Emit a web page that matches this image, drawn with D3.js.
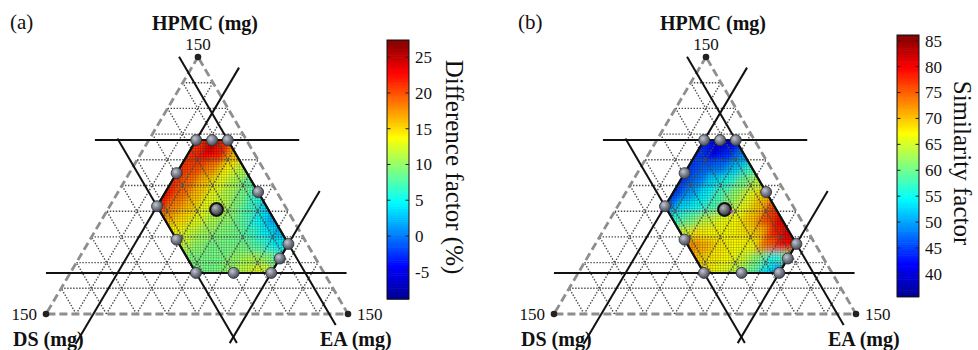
<!DOCTYPE html>
<html><head><meta charset="utf-8">
<script src="https://cdn.jsdelivr.net/npm/d3@7"></script>
<style>
body{margin:0;background:#fff;}
svg, svg text{font-family:"Liberation Serif","DejaVu Serif","Times New Roman",serif;}
</style></head><body>
<svg id="chart" width="978" height="350" font-family="Liberation Serif, DejaVu Serif, serif"></svg>
<script>
// ---------------- DATA ----------------
const TOTAL = 150;
const gridTicks = [15, 30, 45, 60, 75, 90, 105, 120, 135];
const vertexLabel = "150";
const axisNames = { top: "HPMC (mg)", left: "DS (mg)", right: "EA (mg)" };
const panelTags = ["(a)", "(b)"];

// constraint limits (mg)
const hpmcLimits = [24, 101.5];
const eaLimits = [23.5, 99.8];
const dsLimits = [9.3, 63.6];

// constraint lines: fixed component, value, and extent along the free parameter
const constraintLines = [
  { fix: "H", v: 101.5, from: -26.8, to: 74.7 },
  { fix: "H", v: 24, from: -12.1, to: 137.2 },
  { fix: "E", v: 23.5, from: -17.5, to: 143.8 },
  { fix: "E", v: 99.8, from: -17, to: 71.8 },
  { fix: "D", v: 9.3, from: -6.4, to: 150.2 },
  { fix: "D", v: 63.6, from: -16.9, to: 102.5 }
];

// design points [HPMC, EA] (mg)
const designPoints = [
  [101.5, 23.5], [101.5, 31.4], [101.5, 39.2], [82.2, 23.5], [71.2, 69.5],
  [62.9, 23.5], [43.4, 43.0], [40.9, 99.8], [32.4, 99.8], [24, 62.4],
  [24, 81.1], [24, 99.8]
];
const centerPoint = [61, 54];
const optimumPoint = [59.7, 58.2];

// response grids: rows = HPMC levels, cols = EA levels
const hLevels = [100, 92.5, 85, 77.5, 70, 62.5, 55, 47.5, 40, 32.5, 25];
const eLevels = [25, 32.5, 40, 47.5, 55, 62.5, 70, 77.5, 85, 92.5, 100];
const N = null;
const diffFactor = [
  [21, 25, 21, 15, N, N, N, N, N, N, N],
  [21, 23, 22, 16, 13, N, N, N, N, N, N],
  [21, 20, 18, 14, 11.5, 9.5, N, N, N, N, N],
  [21, 19, 16, 13, 11, 8, 6, N, N, N, N],
  [22, 19, 16, 13, 11, 9, 6, 4, N, N, N],
  [22, 18, 16, 13, 12, 9.5, 7, 3.5, 1, N, N],
  [19, 17, 15, 13, 11, 10, 8, 5, 2, 1, N],
  [N, 15, 14, 12, 10.5, 9.5, 9, 7, 4.5, 2.5, 3],
  [N, N, 13, 12, 10, 9, 9, 9, 7.5, 5, 4],
  [N, N, N, 10, 9.5, 9, 9, 10, 11, 10, 7],
  [N, N, N, N, 9, 9, 9, 10, 11.5, 13, 11]
];
const simFactor = [
  [43, 40, 42, 46, N, N, N, N, N, N, N],
  [45, 42, 44, 49, 52, N, N, N, N, N, N],
  [45, 47, 48, 52, 57, 60, N, N, N, N, N],
  [45, 48, 53, 56, 60, 64, 68, N, N, N, N],
  [45, 50, 54, 58, 62, 66, 70, 74, N, N, N],
  [47, 53, 55, 58, 62, 66, 70, 77, 81, N, N],
  [54, 57, 60, 64, 66, 67, 70, 76, 81, 82, N],
  [N, 60, 65, 68, 67, 67, 68, 70, 78, 81, 80],
  [N, N, 72, 73, 71, 68, 67, 67, 74, 79, 80],
  [N, N, N, 72, 70, 68, 67, 65, 61, 55, 60],
  [N, N, N, N, 69, 68, 66, 64, 60, 54, 47]
];
const diffTicks = [-5, 0, 5, 10, 15, 20, 25];
const simTicks = [40, 45, 50, 55, 60, 65, 70, 75, 80, 85];
const diffDomain = [-8.8, 27.4];
const simDomain = [35.6, 86.1];
const colorbarTitles = ["Difference factor (%)", "Similarity factor"];

// ---------------- RENDER ----------------
const FONT = "Liberation Serif, DejaVu Serif, serif";
const svg = d3.select("#chart");
const defs = svg.append("defs");

const jetStops = [0, 0.125, 0.375, 0.625, 0.875, 1];
const jetColors = ["#00008f", "#0000ff", "#00ffff", "#ffff00", "#ff0000", "#800000"];
const jet = d3.scaleLinear().domain(jetStops).range(jetColors).clamp(true);

const g1 = defs.append("radialGradient").attr("id", "ball").attr("cx", "38%").attr("cy", "35%").attr("r", "65%");
g1.append("stop").attr("offset", "0%").attr("stop-color", "#c3c7d0");
g1.append("stop").attr("offset", "55%").attr("stop-color", "#7a7f8c");
g1.append("stop").attr("offset", "100%").attr("stop-color", "#4a4e58");
const g2 = defs.append("radialGradient").attr("id", "ball2").attr("cx", "38%").attr("cy", "35%").attr("r", "65%");
g2.append("stop").attr("offset", "0%").attr("stop-color", "#b5b8bf");
g2.append("stop").attr("offset", "55%").attr("stop-color", "#676b74");
g2.append("stop").attr("offset", "100%").attr("stop-color", "#33363c");

const pat = defs.append("pattern").attr("id", "mesh").attr("patternUnits", "userSpaceOnUse")
  .attr("width", 2.6).attr("height", 2.6);
pat.append("path").attr("d", "M0 0.3H2.6M0.3 0V2.6").attr("stroke", "#000")
  .attr("stroke-opacity", 0.36).attr("stroke-width", 0.6);

defs.append("filter").attr("id", "soft").attr("x", "-10%").attr("y", "-10%").attr("width", "120%").attr("height", "120%")
  .append("feGaussianBlur").attr("stdDeviation", 3.5);

const eX = d3.scaleLinear().domain([0, TOTAL]).range([0, 302]);
const hX = d3.scaleLinear().domain([0, TOTAL]).range([0, 152]);
const hY = d3.scaleLinear().domain([0, TOTAL]).range([314, 57]);

function txt(sel) { return sel.append("text").attr("font-family", FONT).attr("fill", "#111"); }

function drawPanel(ox, values, domain, ticks, title, tag, cb, isB) {
  const P = (h, e) => [ox + 46 + eX(e) + hX(h), hY(h)];
  const g = svg.append("g");
  const norm = d3.scaleLinear().domain(domain).range([0, 1]);
  const color = v => jet(norm(v));

  const [hLo, hHi] = hpmcLimits, [eLo, eHi] = eaLimits, [dLo, dHi] = dsLimits;
  const hex = [
    [hHi, eLo], [hHi, TOTAL - hHi - dLo], [TOTAL - eHi - dLo, eHi],
    [hLo, eHi], [hLo, TOTAL - hLo - dHi], [TOTAL - eLo - dHi, eLo]
  ];
  const hexPts = hex.map(d => P(d[0], d[1]));
  const clipId = "clip" + ox;
  defs.append("clipPath").attr("id", clipId).append("polygon")
    .attr("points", hexPts.map(p => p.join(",")).join(" "));

  const cells = [];
  hLevels.forEach((h, i) => eLevels.forEach((e, j) => {
    const v = values[i][j];
    if (v !== null) cells.push({ h, e, v });
  }));
  const s = 3.75;
  const cellPoly = d => [P(d.h - s, d.e - s), P(d.h - s, d.e + s), P(d.h + s, d.e + s), P(d.h + s, d.e - s)]
    .map(p => p.join(",")).join(" ");
  const heat = g.append("g").attr("clip-path", `url(#${clipId})`);
  heat.append("g").selectAll("polygon").data(cells).join("polygon")
    .attr("points", cellPoly).attr("fill", d => color(d.v)).attr("stroke", d => color(d.v)).attr("stroke-width", 0.5);
  heat.append("g").attr("filter", "url(#soft)").selectAll("polygon").data(cells).join("polygon")
    .attr("points", cellPoly).attr("fill", d => color(d.v)).attr("stroke", d => color(d.v)).attr("stroke-width", 0.5);
  heat.append("polygon").attr("points", hexPts.map(p => p.join(",")).join(" ")).attr("fill", "url(#mesh)");

  const gl = g.append("g").attr("fill", "none").attr("stroke", "#4a4a4a").attr("stroke-width", 1.4)
    .attr("stroke-dasharray", "1.4 1.6");
  gridTicks.forEach(t => {
    const segs = [
      [P(t, 0), P(t, TOTAL - t)],
      [P(0, t), P(TOTAL - t, t)],
      [P(0, TOTAL - t), P(TOTAL - t, 0)]
    ];
    segs.forEach(sg => gl.append("line").attr("x1", sg[0][0]).attr("y1", sg[0][1]).attr("x2", sg[1][0]).attr("y2", sg[1][1]));
  });

  const tri = [P(TOTAL, 0), P(0, 0), P(0, TOTAL)];
  g.append("polygon").attr("points", tri.map(p => p.join(",")).join(" "))
    .attr("fill", "none").attr("stroke", "#8e8e8e").attr("stroke-width", 2.8).attr("stroke-dasharray", "8 4");
  g.selectAll(".vdot").data(tri).join("circle").attr("cx", d => d[0]).attr("cy", d => d[1]).attr("r", 3.3).attr("fill", "#222");

  const cl = g.append("g").attr("stroke", "#111").attr("stroke-width", 2);
  constraintLines.forEach(c => {
    let a, b;
    if (c.fix === "H") { a = P(c.v, c.from); b = P(c.v, c.to); }
    else if (c.fix === "E") { a = P(c.from, c.v); b = P(c.to, c.v); }
    else { a = P(c.from, TOTAL - c.v - c.from); b = P(c.to, TOTAL - c.v - c.to); }
    cl.append("line").attr("x1", a[0]).attr("y1", a[1]).attr("x2", b[0]).attr("y2", b[1]);
  });
  g.append("polygon").attr("points", hexPts.map(p => p.join(",")).join(" "))
    .attr("fill", "none").attr("stroke", "#111").attr("stroke-width", 2);

  g.selectAll(".dp").data(designPoints).join("circle")
    .attr("cx", d => P(d[0], d[1])[0]).attr("cy", d => P(d[0], d[1])[1])
    .attr("r", 5.5).attr("fill", "url(#ball)").attr("stroke", "#33363d").attr("stroke-width", 0.9);
  const cp = P(centerPoint[0], centerPoint[1]);
  g.append("circle").attr("cx", cp[0]).attr("cy", cp[1]).attr("r", 6.4)
    .attr("fill", "url(#ball2)").attr("stroke", "#111").attr("stroke-width", 2);
  if (isB) {
    const op = P(optimumPoint[0], optimumPoint[1]);
    g.append("circle").attr("cx", op[0]).attr("cy", op[1]).attr("r", 1.4).attr("fill", "#e020e0");
  }

  const top = P(TOTAL, 0), bl = P(0, 0), br = P(0, TOTAL);
  txt(g).attr("x", ox + 10).attr("y", 29).attr("font-size", 21).text(tag);
  txt(g).attr("x", top[0] + 7).attr("y", 30).attr("text-anchor", "middle")
    .attr("font-size", 20).attr("font-weight", "bold").text(axisNames.top);
  txt(g).attr("x", top[0]).attr("y", 50).attr("text-anchor", "middle").attr("font-size", 17).text(vertexLabel);
  txt(g).attr("x", bl[0] - 9).attr("y", bl[1] + 6).attr("text-anchor", "end").attr("font-size", 17).text(vertexLabel);
  txt(g).attr("x", br[0] + 9).attr("y", br[1] + 6).attr("text-anchor", "start").attr("font-size", 17).text(vertexLabel);
  txt(g).attr("x", ox + 13).attr("y", 346).attr("font-size", 20).attr("font-weight", "bold").text(axisNames.left);
  txt(g).attr("x", ox + 320).attr("y", 346).attr("font-size", 20).attr("font-weight", "bold").text(axisNames.right);

  const cy = d3.scaleLinear().domain(domain).range([cb.y1, cb.y0]);
  const steps = d3.range(0, 120);
  const cbg = svg.append("g");
  cbg.selectAll("rect").data(steps).join("rect")
    .attr("x", cb.x).attr("width", cb.w)
    .attr("y", i => cy(domain[0] + (domain[1] - domain[0]) * (i + 1) / steps.length))
    .attr("height", (cb.y1 - cb.y0) / steps.length + 0.6)
    .attr("fill", i => jet((i + 0.5) / steps.length));
  cbg.append("rect").attr("x", cb.x).attr("y", cb.y0).attr("width", cb.w).attr("height", cb.y1 - cb.y0)
    .attr("fill", "none").attr("stroke", "#111").attr("stroke-width", 1);
  ticks.forEach(t => {
    const y = cy(t);
    cbg.append("line").attr("x1", cb.x).attr("x2", cb.x + 3.5).attr("y1", y).attr("y2", y).attr("stroke", "#222");
    cbg.append("line").attr("x1", cb.x + cb.w - 3.5).attr("x2", cb.x + cb.w).attr("y1", y).attr("y2", y).attr("stroke", "#222");
    txt(cbg).attr("x", cb.x + cb.w + 6).attr("y", y).attr("dy", "0.35em").attr("font-size", 17).text(t);
  });
  txt(cbg).attr("transform", `translate(${cb.tx},${cb.ty}) rotate(90)`)
    .attr("text-anchor", "middle").attr("dy", "0.35em").attr("font-size", 25).text(title);
}

drawPanel(0, diffFactor, diffDomain, diffTicks, colorbarTitles[0], panelTags[0],
  { x: 387, w: 22, y0: 40, y1: 299, tx: 455, ty: 167 }, false);
drawPanel(508, simFactor, simDomain, simTicks, colorbarTitles[1], panelTags[1],
  { x: 897, w: 22, y0: 35, y1: 296.7, tx: 963, ty: 163 }, true);
</script>
</body></html>
